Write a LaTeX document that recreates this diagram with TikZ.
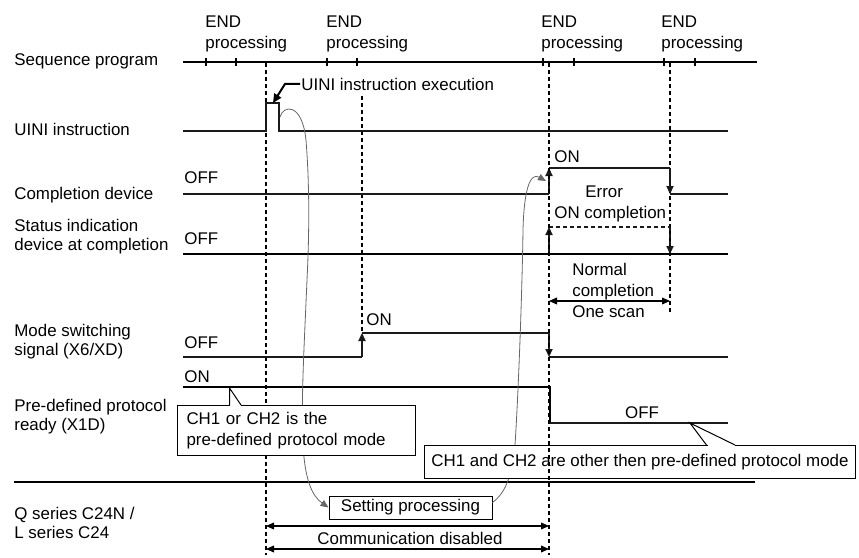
\documentclass[tikz,border=0pt]{standalone}
\usepackage{fontspec}
\setmainfont{Liberation Sans}
\usetikzlibrary{arrows.meta}
\definecolor{wire}{HTML}{1A1A1A}
\definecolor{linkgray}{HTML}{666666}

\begin{document}
\begin{tikzpicture}[x=0.5pt, y=-0.5pt,
  font=\fontsize{8.45}{10.5}\selectfont,
  lbl/.style={anchor=north west, inner sep=0pt, align=left, font=\fontsize{8.45}{9.5}\selectfont},
  txt/.style={anchor=north west, inner sep=0pt, align=left},
  val/.style={anchor=base west, inner sep=0pt},
  sig/.style={line width=0.6pt, color=wire},
  sigbold/.style={line width=1.1pt, color=black},
  guide/.style={dash pattern=on 2pt off 1.5pt, line width=0.55pt},
  tip/.style={-{Triangle[length=4pt,width=3.6pt]}},
  dimarr/.style={{Triangle[length=4pt,width=3.4pt]}-{Triangle[length=4pt,width=3.4pt]}, line width=0.55pt},
  link/.style={-{Triangle[length=4pt,width=3.4pt]}, line width=0.4pt, color=linkgray},
  leader/.style={-{Triangle[length=4.5pt,width=4pt]}, line width=1pt},
  callout/.style={draw, line width=0.5pt, fill=white, align=left, inner xsep=4.5pt},
]
  \useasboundingbox (0,0) rectangle (859,558);

  % row labels
  \node[lbl] (seqlbl) at (14,53) {Sequence program};
  \node[lbl] (uinirow) at (14,122.5) {UINI instruction};
  \node[lbl] (cdevlbl) at (14,186.5) {Completion device};
  \node[lbl] (statlbl) at (14,218.5) {Status indication\\device at completion};
  \node[lbl] (modelbl) at (14,323.5) {Mode switching\\signal (X6/XD)};
  \node[lbl] (readylbl) at (14,398.5) {Pre-defined protocol\\ready (X1D)};
  \node[lbl] (c24lbl) at (14,506.5) {Q series C24N /\\L series C24};

  % END processing marks
  \foreach \ex/\nm in {205/enda, 326/endb, 541/endc, 661/endd}
    \node[txt] (\nm) at (\ex,15) {END\\processing};

  % timing guides
  \draw[guide] (266,63) -- (266,555);
  \draw[guide] (362,96) -- (362,333);
  \draw[guide] (670,63) -- (670,313);

  % sequence program
  \draw[sigbold] (183,62) -- (757,62);
  \foreach \tx in {206,236,327,357,543,574,664,695}
    \draw[line width=0.75pt] (\tx,58) -- (\tx,66);

  % UINI instruction
  \draw[sig] (183,131) -- (266,131) -- (266,103) -- (279,103) -- (279,131) -- (728,131);
  \node[val] (uinilbl) at (301,90) {UINI instruction execution};
  \coordinate (uinitop) at (273,103);
  \draw[leader] ([xshift=-0.5pt]uinilbl.west) -- ++(-15,0) -- (uinitop);

  % completion device
  \node[val] (cdoff) at (184,183) {OFF};
  \node[val] (cdon) at (554,162) {ON};
  \draw[sig] (183,194) -- (549,194);
  \draw[sig, tip] (549,194) -- (549,168);
  \draw[sig] (549,168) -- (670,168);
  \draw[sig, tip] (670,168) -- (670,194);
  \draw[sig] (670,194) -- (728,194);
  \node[val] (errlbl) at (585,197) {Error};
  \node[val] (onclbl) at (554,218) {ON completion};

  % status indication device
  \node[val] (stoff) at (184,244) {OFF};
  \draw[sigbold] (183,254) -- (728,254);
  \draw[sig, tip] (549,254) -- (549,227);
  \draw[sig, guide] (549,227) -- (670,227);
  \draw[sig, guide, tip] (670,227) -- (670,254);
  \node[txt] (normlbl) at (572,263) {Normal\\completion\\One scan};
  \coordinate (scanl) at (549,301);
  \coordinate (scanr) at (670,301);
  \draw[dimarr] (scanl) -- (scanr);

  % mode switching signal
  \node[val] (mdoff) at (184,348) {OFF};
  \node[val] (mdon) at (366,325) {ON};
  \draw[sig] (183,357) -- (362,357);
  \draw[sig, tip] (362,357) -- (362,333);
  \draw[sig] (362,333) -- (549,333);
  \draw[sig, tip] (549,333) -- (549,357);
  \draw[sig] (549,357) -- (728,357);

  % protocol ready
  \node[val] (rdon) at (184,382) {ON};
  \node[anchor=base, inner sep=0pt] (rdoff) at (642,418) {OFF};
  \draw[sigbold] (183,387) -- (550,387) -- (550,423);
  \draw[sig] (550,423) -- (728,423);

  \draw[sigbold] (14,482) -- (755,482);

  % module side
  \node[draw, line width=0.5pt, minimum width=81.5pt, minimum height=11.5pt, inner sep=0pt] (setproc) at (410.5,507.5) {Setting processing};
  \coordinate (comla) at (266,526);
  \coordinate (comra) at (549,526);
  \coordinate (comlb) at (266,549);
  \coordinate (comrb) at (549,549);
  \draw[dimarr] (comla) -- (comra);
  \draw[dimarr] (comlb) -- (comrb);
  \node[anchor=base, inner sep=0pt] (comlbl) at (410,544) {Communication disabled};

  % request / response links
  \coordinate (uiniend) at (280,117);
  \coordinate (cdhit) at (546,181);
  \draw[link] (uiniend) .. controls (283,105) and (302,102) .. (306,140)
    .. controls (310,190) and (309,240) .. (307,280)
    .. controls (304,350) and (301,400) .. (303,445)
    .. controls (305,480) and (312,496) .. (setproc.west);
  \draw[link] ([yshift=-3.5pt]setproc.north east) .. controls (503,495) and (512,480) .. (515,445)
    .. controls (518,400) and (522,300) .. (523,230)
    .. controls (524,190) and (530,172) .. (cdhit);

  % callouts
  \node[callout, anchor=north west, minimum width=119pt, minimum height=25pt, text width=110pt] (modenote) at (177,405) {CH1 or CH2 is the\\pre-defined protocol mode};
  \fill[white] (230,403.5) rectangle (240.5,406.5);
  \draw[line width=0.5pt] (229.5,405) -- (229.5,388) -- (241,405);
  \node[callout, anchor=north west, minimum width=215.5pt, minimum height=16.5pt, inner xsep=0pt] (othernote) at (424,445) {CH1 and CH2 are other then pre-defined protocol mode};
  \fill[white] (707.5,443.5) rectangle (734.5,446.5);
  \draw[line width=0.5pt] (706.5,445) -- (690,423) -- (735,445);

  \draw[guide] (549,63) -- (549,555);
\end{tikzpicture}
\end{document}
